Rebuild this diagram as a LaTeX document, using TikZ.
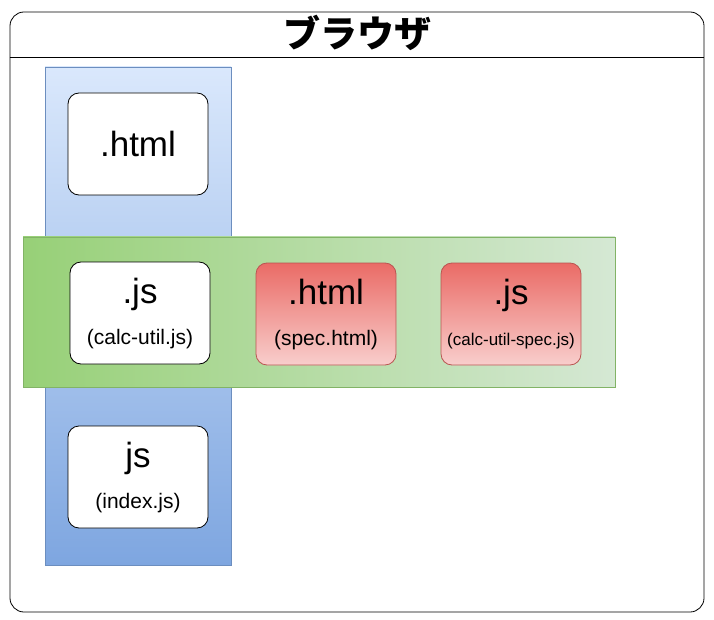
\documentclass[tikz,border=0pt]{standalone}
\usepackage{fontspec}
\setmainfont{Liberation Sans}
\newfontfamily\cjk{Noto Sans CJK JP}
\usetikzlibrary{positioning}

\definecolor{blueTop}{HTML}{DAE8FC}
\definecolor{blueBot}{HTML}{7EA6E0}
\definecolor{blueLine}{HTML}{6C8EBF}
\definecolor{greenL}{HTML}{97D077}
\definecolor{greenR}{HTML}{D5E8D4}
\definecolor{greenLine}{HTML}{82B366}
\definecolor{redTop}{HTML}{EA6B66}
\definecolor{redBot}{HTML}{F8CECC}
\definecolor{redLine}{HTML}{B85450}

\begin{document}
\begin{tikzpicture}[
    x=1pt, y=-1pt,
    frame/.style={draw=black, thick, rounded corners=14pt,
                  minimum width=694pt, minimum height=600pt},
    file/.style={draw=black, thick, fill=white, rounded corners=11pt,
                 minimum width=140pt, minimum height=102pt,
                 align=center, font=\fontsize{35}{40}\selectfont},
    spec/.style={file, draw=redLine, top color=redTop, bottom color=redBot},
    column/.style={draw=blueLine, top color=blueTop, bottom color=blueBot,
                   minimum width=186pt, minimum height=498pt},
    band/.style={draw=greenLine, left color=greenL, right color=greenR,
                 minimum width=592pt, minimum height=150pt}]

    \useasboundingbox (0,0) rectangle (714,620);

    % browser window
    \node[frame] (browser) at (357,312) {};
    \node[font=\cjk\bfseries\fontsize{37}{40}\selectfont] (title) at (357,33) {ブラウザ};
    \coordinate (sep) at (357,57);
    \draw[thick] (browser.west |- sep) -- (browser.east |- sep);

    % application column and test band
    \node[column] (appcol) at (138,316) {};
    \node[band] (testband) at (319,312) {};

    % files
    \node[file] (apphtml) at (138,144) {.html};
    \node[file] (calcutil) at (140,313)
      {.js\\[1pt]{\fontsize{21}{24}\selectfont(calc-util.js)}};
    \node[spec] (spechtml) at (326,314)
      {.html\\[1pt]{\fontsize{21}{24}\selectfont(spec.html)}};
    \node[spec] (specjs) at (511,314)
      {.js\\[1pt]{\fontsize{17}{20}\selectfont(calc-util-spec.js)}};
    \node[file] (indexjs) at (138,477)
      {js\\[1pt]{\fontsize{21}{24}\selectfont(index.js)}};
\end{tikzpicture}
\end{document}
